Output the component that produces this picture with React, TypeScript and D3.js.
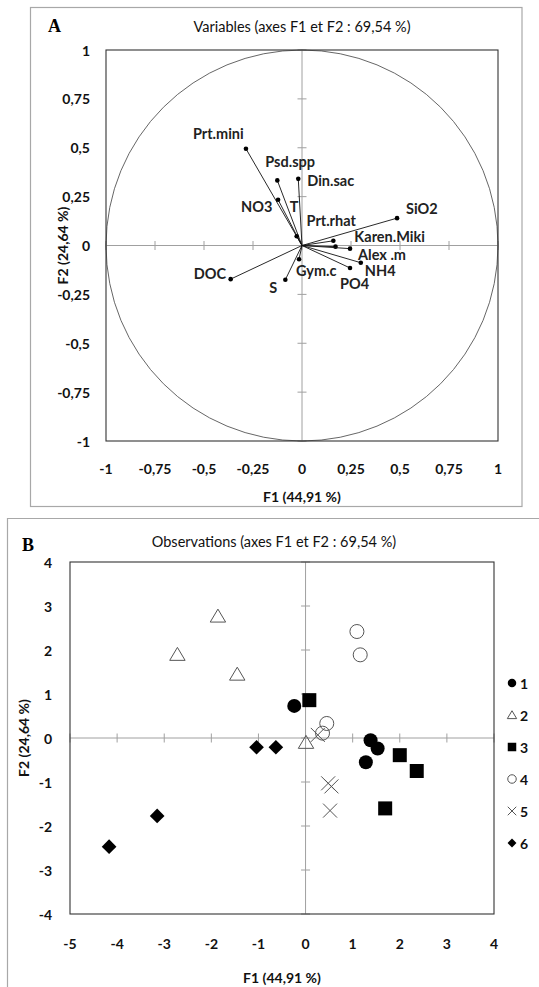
import React from "react";
import * as d3 from "d3";

// ---------- Data ----------
const variableNames = ["Prt.mini", "Psd.spp", "Din.sac", "NO3", "T", "Prt.rhat", "SiO2", "Karen.Miki", "Alex .m", "NH4", "PO4", "Gym.c", "S", "DOC"];
const variableF1 = [-0.286, -0.126, -0.019, -0.122, -0.027, 0.171, 0.485, 0.16, 0.245, 0.30, 0.245, -0.015, -0.085, -0.364];
const variableF2 = [0.495, 0.333, 0.341, 0.234, 0.047, -0.006, 0.14, 0.024, -0.016, -0.088, -0.115, -0.07, -0.175, -0.172];
// label placement (pixels relative to point)
const labelOffsets: [number, number][] = [[-53, -15], [-12, -19], [9, 2], [-37, 7], [-7, -30], [-29, -26], [9, -10], [21, -4], [8, 6], [4, 8], [-10, 16], [-3, 11], [-16, 8], [-37, -6]];

const obsGroup = [1, 1, 1, 1, 2, 2, 2, 2, 3, 3, 3, 3, 4, 4, 4, 4, 5, 5, 5, 5, 6, 6, 6, 6];
const obsF1 = [-0.24, 1.38, 1.53, 1.28, -1.86, -2.72, -1.45, 0.01, 0.08, 2.0, 2.36, 1.69, 1.09, 1.16, 0.45, 0.36, 0.26, 0.48, 0.55, 0.52, -1.04, -0.63, -3.15, -4.17];
const obsF2 = [0.73, -0.05, -0.24, -0.55, 2.77, 1.9, 1.45, -0.1, 0.86, -0.39, -0.75, -1.6, 2.42, 1.89, 0.33, 0.11, 0.07, -1.03, -1.1, -1.65, -0.21, -0.21, -1.77, -2.47];
const legendGroups = [1, 2, 3, 4, 5, 6];

const ticksA = [-1, -0.75, -0.5, -0.25, 0, 0.25, 0.5, 0.75, 1];
const ticksBx = [-5, -4, -3, -2, -1, 0, 1, 2, 3, 4];
const ticksBy = [-4, -3, -2, -1, 0, 1, 2, 3, 4];

const titleA = "Variables (axes F1 et F2 : 69,54 %)";
const titleB = "Observations (axes F1 et F2 : 69,54 %)";
const xLabel = "F1 (44,91 %)";
const yLabel = "F2 (24,64 %)";

// ---------- Layout ----------
const W = 539, H = 987;
const FONT = "Lato, 'Open Sans', sans-serif";
const locale = d3.formatLocale({ decimal: ",", thousands: " ", grouping: [3], currency: ["", ""], minus: "-" } as any);
const fmt = locale.format(".2~f");

const xA = d3.scaleLinear().domain([-1, 1]).range([106, 498]);
const yA = d3.scaleLinear().domain([-1, 1]).range([441, 50]);
const xB = d3.scaleLinear().domain([-5, 4]).range([70, 494]);
const yB = d3.scaleLinear().domain([-4, 4]).range([914, 562]);

function Marker({ g, x, y, s }: { g: number; x: number; y: number; s: number }) {
  const h = s / 2;
  if (g === 1) return <circle cx={x} cy={y} r={h} fill="#000" />;
  if (g === 2) {
    const p = d3.path();
    p.moveTo(x, y - h * 1.0);
    p.lineTo(x + h * 1.1, y + h * 0.85);
    p.lineTo(x - h * 1.1, y + h * 0.85);
    p.closePath();
    return <path d={p.toString()} fill="none" stroke="#555" strokeWidth={1} />;
  }
  if (g === 3) return <rect x={x - h} y={y - h} width={s} height={s} fill="#000" />;
  if (g === 4) return <circle cx={x} cy={y} r={h} fill="none" stroke="#555" strokeWidth={1} />;
  if (g === 5) {
    const p = d3.path();
    p.moveTo(x - h, y - h); p.lineTo(x + h, y + h);
    p.moveTo(x + h, y - h); p.lineTo(x - h, y + h);
    return <path d={p.toString()} stroke="#555" strokeWidth={1} fill="none" />;
  }
  const sym = d3.symbol(d3.symbolSquare, s * s * 0.55)();
  return <path d={sym || ""} transform={`translate(${x},${y}) rotate(45)`} fill="#000" />;
}

function PanelA() {
  const cx = xA(0), cy = yA(0);
  const rx = xA(1) - xA(0), ry = yA(0) - yA(1);
  return (
    <g>
      <rect x={30.5} y={7.5} width={491.5} height={499} fill="none" stroke="#a8a8a8" strokeWidth={1.2} />
      <text x={48} y={26} fontFamily="'Liberation Serif', serif" fontWeight="bold" fontSize={18} dominantBaseline="central">A</text>
      <text x={302} y={26} fontFamily={FONT} fontSize={14.5} fill="#111" textAnchor="middle" dominantBaseline="central">{titleA}</text>
      {/* axis lines */}
      <line x1={xA(-1)} x2={xA(1)} y1={cy} y2={cy} stroke="#a0a0a0" strokeWidth={1} />
      <line x1={cx} x2={cx} y1={yA(-1)} y2={yA(1)} stroke="#a0a0a0" strokeWidth={1} />
      {ticksA.map((t) => (
        <g key={"t" + t}>
          <line x1={xA(t)} x2={xA(t)} y1={cy - 4.5} y2={cy + 4.5} stroke="#a0a0a0" />
          <line x1={cx - 4.5} x2={cx + 4.5} y1={yA(t)} y2={yA(t)} stroke="#a0a0a0" />
        </g>
      ))}
      <ellipse cx={cx} cy={cy} rx={rx} ry={ry} fill="none" stroke="#555" strokeWidth={0.9} />
      <rect x={xA(-1)} y={yA(1)} width={xA(1) - xA(-1)} height={yA(-1) - yA(1)} fill="none" stroke="#333" strokeWidth={1.1} />
      {ticksA.map((t) => (
        <text key={"yl" + t} x={90} y={yA(t)} fontFamily={FONT} fontWeight="bold" fontSize={14} fill="#111" textAnchor="end" dominantBaseline="central">{fmt(t)}</text>
      ))}
      {ticksA.map((t) => (
        <text key={"xl" + t} x={xA(t)} y={468} fontFamily={FONT} fontWeight="bold" fontSize={14} fill="#111" textAnchor="middle" dominantBaseline="central">{fmt(t)}</text>
      ))}
      <text x={302} y={496} fontFamily={FONT} fontWeight="bold" fontSize={14} fill="#111" textAnchor="middle" dominantBaseline="central">{xLabel}</text>
      <text transform={`translate(62,${cy}) rotate(-90)`} fontFamily={FONT} fontWeight="bold" fontSize={14} fill="#111" textAnchor="middle" dominantBaseline="central">{yLabel}</text>
      {variableNames.map((n, i) => {
        const px = xA(variableF1[i]), py = yA(variableF2[i]);
        const [dx, dy] = labelOffsets[i];
        return (
          <g key={n}>
            <line x1={cx} y1={cy} x2={px} y2={py} stroke="#111" strokeWidth={0.9} />
            <circle cx={px} cy={py} r={2.3} fill="#000" />
            <text x={px + dx} y={py + dy} fontFamily={FONT} fontWeight="bold" fontSize={14.5} fill="#222" dominantBaseline="central">{n}</text>
          </g>
        );
      })}
    </g>
  );
}

function PanelB() {
  const cx = xB(0), cy = yB(0);
  return (
    <g>
      <path d={`M7.5,${H} V518.5 H${W}`} fill="none" stroke="#a8a8a8" strokeWidth={1.2} />
      <text x={22} y={545} fontFamily="'Liberation Serif', serif" fontWeight="bold" fontSize={18} dominantBaseline="central">B</text>
      <text x={274} y={541} fontFamily={FONT} fontSize={14.5} fill="#111" textAnchor="middle" dominantBaseline="central">{titleB}</text>
      <line x1={xB(-5)} x2={xB(4)} y1={cy} y2={cy} stroke="#a0a0a0" strokeWidth={1} />
      <line x1={cx} x2={cx} y1={yB(-4)} y2={yB(4)} stroke="#a0a0a0" strokeWidth={1} />
      {ticksBx.map((t) => (
        <line key={"tx" + t} x1={xB(t)} x2={xB(t)} y1={cy - 4.5} y2={cy + 4.5} stroke="#a0a0a0" />
      ))}
      {ticksBy.map((t) => (
        <line key={"ty" + t} x1={cx - 4.5} x2={cx + 4.5} y1={yB(t)} y2={yB(t)} stroke="#a0a0a0" />
      ))}
      <rect x={xB(-5)} y={yB(4)} width={xB(4) - xB(-5)} height={yB(-4) - yB(4)} fill="none" stroke="#333" strokeWidth={1.1} />
      {ticksBy.map((t) => (
        <text key={"yl" + t} x={52} y={yB(t)} fontFamily={FONT} fontWeight="bold" fontSize={14} fill="#111" textAnchor="end" dominantBaseline="central">{fmt(t)}</text>
      ))}
      {ticksBx.map((t) => (
        <text key={"xl" + t} x={xB(t)} y={943} fontFamily={FONT} fontWeight="bold" fontSize={14} fill="#111" textAnchor="middle" dominantBaseline="central">{fmt(t)}</text>
      ))}
      <text x={(xB(-5) + xB(4)) / 2} y={977} fontFamily={FONT} fontWeight="bold" fontSize={14} fill="#111" textAnchor="middle" dominantBaseline="central">{xLabel}</text>
      <text transform={`translate(23,${cy}) rotate(-90)`} fontFamily={FONT} fontWeight="bold" fontSize={14} fill="#111" textAnchor="middle" dominantBaseline="central">{yLabel}</text>
      {obsGroup.map((g, i) => (
        <Marker key={"o" + i} g={g} x={xB(obsF1[i])} y={yB(obsF2[i])} s={14} />
      ))}
      {legendGroups.map((g, i) => (
        <g key={"lg" + g}>
          <Marker g={g} x={512} y={683 + i * 32} s={8.5} />
          <text x={520} y={683 + i * 32} fontFamily={FONT} fontWeight="bold" fontSize={14} fill="#111" dominantBaseline="central">{g}</text>
        </g>
      ))}
    </g>
  );
}

export default function App() {
  return (
    <svg width={W} height={H} viewBox={`0 0 ${W} ${H}`} style={{ position: "absolute", left: 0, top: 0, background: "#fff" }}>
      <rect width={W} height={H} fill="#fff" />
      <PanelA />
      <PanelB />
    </svg>
  );
}
